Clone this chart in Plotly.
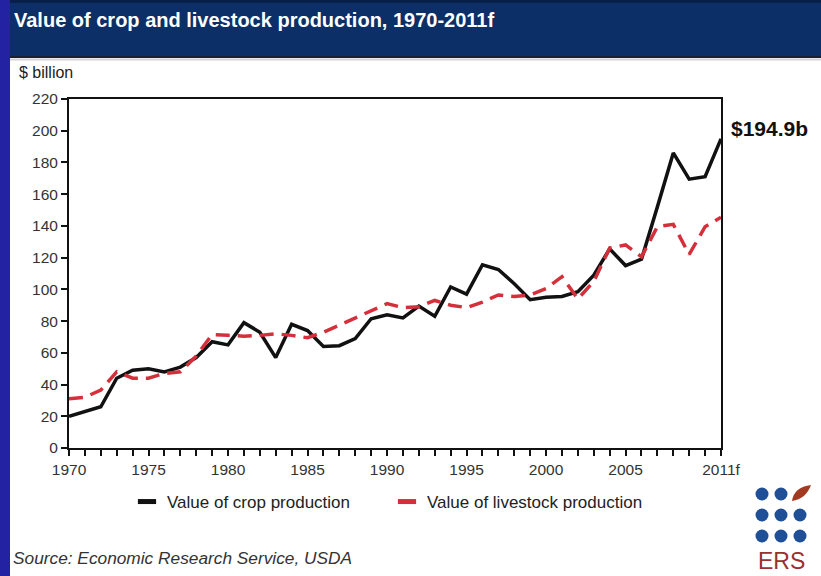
import plotly.graph_objects as go

# ---- data ($ billion) ----
years = list(range(1970, 2012))
crop_value = [20, 23, 26, 44, 49, 50, 48, 51, 57, 67, 65, 79, 73, 57, 78, 74,
              64, 64.5, 69, 81.5, 84, 82, 89.5, 83, 101.5, 97, 115.5, 112.5,
              103.5, 93.5, 95, 95.5, 98.5, 109, 125.5, 115, 119, 152, 186,
              169.5, 171, 194.9]
livestock_value = [31, 32, 36.5, 48, 44, 44, 47, 48, 58, 71.5, 71, 70.5, 71,
                   72, 71, 69.5, 73, 77.5, 81.5, 86, 91, 88.5, 89, 93, 90,
                   88.5, 92, 96.5, 95.5, 96.5, 100.5, 108, 94, 105, 126, 128,
                   120.5, 139.5, 141, 122, 139.5, 145.5]
tick_years = [1970, 1975, 1980, 1985, 1990, 1995, 2000, 2005, 2011]
tick_labels = ["1970", "1975", "1980", "1985", "1990", "1995", "2000", "2005", "2011f"]
end_label = "$194.9b"

# ---- page geometry (pixels) ----
W, H = 821, 576
L, R, T, B = 69, 721, 99, 448


def px(x):
    return (x - L) / (R - L)


def py(y):
    return (B - y) / (B - T)


fig = go.Figure()

fig.add_trace(go.Scatter(
    x=years, y=crop_value, mode="lines", name="Value of crop production",
    line=dict(color="#111111", width=3.5), showlegend=False,
    legendgroup="crop"))
fig.add_trace(go.Scatter(
    x=years, y=livestock_value, mode="lines", name="Value of livestock production",
    line=dict(color="#d3303c", width=3.5, dash="14px,8px"), showlegend=False,
    legendgroup="live"))

# short thick legend keys
fig.add_trace(go.Scatter(
    x=[None], y=[None], mode="markers", name="Value of crop production",
    marker=dict(symbol="line-ew", size=13, line=dict(width=5, color="#111111")),
    legendgroup="crop"))
fig.add_trace(go.Scatter(
    x=[None], y=[None], mode="markers", name="Value of livestock production",
    marker=dict(symbol="line-ew", size=13, line=dict(width=5, color="#d3303c")),
    legendgroup="live"))

tickvals = years
ticktext = [tick_labels[tick_years.index(y)] if y in tick_years else "" for y in years]

fig.update_xaxes(
    range=[1970, 2011], tickmode="array", tickvals=tickvals, ticktext=ticktext,
    ticks="outside", ticklen=6, tickwidth=1.5, tickcolor="#111111",
    showline=True, linecolor="#111111", linewidth=2, mirror=True,
    showgrid=False, zeroline=False,
    tickfont=dict(family="Liberation Sans, Arial, sans-serif", size=15.5, color="#333333"))
fig.update_yaxes(
    range=[0, 220], dtick=20, ticks="outside", ticklen=6, tickwidth=1.5,
    tickcolor="#111111", showline=True, linecolor="#111111", linewidth=2,
    mirror=True, showgrid=False, zeroline=False,
    tickfont=dict(family="Liberation Sans, Arial, sans-serif", size=15.5, color="#333333"))

shapes = []
# navy header band
shapes.append(dict(type="rect", xref="paper", yref="paper", layer="below",
                   x0=px(0), x1=px(W), y0=py(0), y1=py(57),
                   fillcolor="#0b2f66", line=dict(width=0)))
shapes.append(dict(type="rect", xref="paper", yref="paper", layer="below",
                   x0=px(0), x1=px(W), y0=py(0), y1=py(3),
                   fillcolor="#07204a", line=dict(width=0)))
shapes.append(dict(type="line", xref="paper", yref="paper",
                   x0=px(0), x1=px(W), y0=py(57), y1=py(57),
                   line=dict(color="#1b1f2e", width=2)))
shapes.append(dict(type="line", xref="paper", yref="paper",
                   x0=px(0), x1=px(W), y0=py(59.5), y1=py(59.5),
                   line=dict(color="#d4d4d8", width=2)))
# left blue strip
shapes.append(dict(type="rect", xref="paper", yref="paper",
                   x0=px(0), x1=px(10), y0=py(0), y1=py(H),
                   fillcolor="#2222a2", line=dict(width=0)))

# ERS logo: 3x3 dots with a leaf in the top-right corner
dot_x = [762, 781, 800]
dot_y = [494, 515, 536]
r = 6.5
for j, cy in enumerate(dot_y):
    for i, cx in enumerate(dot_x):
        if i == 2 and j == 0:
            continue
        shapes.append(dict(type="circle", xref="paper", yref="paper",
                           x0=px(cx - r), x1=px(cx + r),
                           y0=py(cy + r), y1=py(cy - r),
                           fillcolor="#1f4f96", line=dict(width=0)))
leaf = [(792, 501), (794, 487), (811, 485), (806, 499)]
leaf_path = ("M {:.5f},{:.5f} Q {:.5f},{:.5f} {:.5f},{:.5f} Q {:.5f},{:.5f} {:.5f},{:.5f} Z"
             .format(px(leaf[0][0]), py(leaf[0][1]), px(leaf[1][0]), py(leaf[1][1]),
                     px(leaf[2][0]), py(leaf[2][1]), px(leaf[3][0]), py(leaf[3][1]),
                     px(leaf[0][0]), py(leaf[0][1])))
shapes.append(dict(type="path", xref="paper", yref="paper", path=leaf_path,
                   fillcolor="#a23a22", line=dict(width=0)))

annotations = [
    dict(text="Value of crop and livestock production, 1970-2011f",
         xref="paper", yref="paper", x=px(12), y=py(20), xanchor="left",
         yanchor="middle", showarrow=False,
         font=dict(family="Liberation Sans, Arial, sans-serif",
                   size=20, color="#ffffff", weight="bold")),
    dict(text="$ billion", xref="paper", yref="paper", x=px(17), y=py(73),
         xanchor="left", yanchor="middle", showarrow=False,
         font=dict(family="Liberation Sans, Arial, sans-serif", size=16, color="#222222")),
    dict(text=end_label, x=years[-1], y=crop_value[-1], xref="x", yref="y",
         xanchor="left", yanchor="middle", xshift=8, yshift=10, showarrow=False,
         font=dict(family="Liberation Sans, Arial, sans-serif", size=21,
                   color="#111111", weight="bold")),
    dict(text="<i>Source: Economic Research Service, USDA</i>", xref="paper",
         yref="paper", x=px(11), y=py(558), xanchor="left", yanchor="middle",
         showarrow=False,
         font=dict(family="Liberation Sans, Arial, sans-serif", size=17.3, color="#333333")),
    dict(text="ERS", xref="paper", yref="paper", x=px(781), y=py(561),
         xanchor="center", yanchor="middle", showarrow=False,
         font=dict(family="Liberation Sans, Arial, sans-serif",
                   size=23, color="#9a3030")),
]

fig.update_layout(
    width=W, height=H,
    margin=dict(l=L, r=W - R, t=T, b=H - B, pad=0),
    paper_bgcolor="#ffffff", plot_bgcolor="#ffffff",
    shapes=shapes, annotations=annotations,
    showlegend=True,
    legend=dict(orientation="h", x=px(127), y=py(502), xanchor="left",
                yanchor="middle", bgcolor="rgba(0,0,0,0)",
                entrywidth=215, entrywidthmode="pixels",
                font=dict(family="Liberation Sans, Arial, sans-serif", size=17,
                          color="#222222")),
)

fig.write_html("out.html")
